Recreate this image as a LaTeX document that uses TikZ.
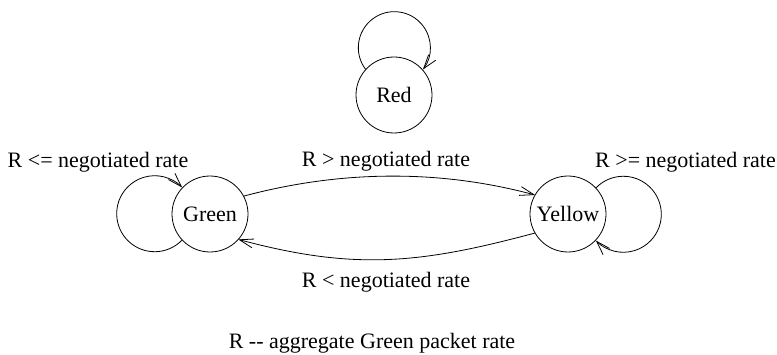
\documentclass[tikz,border=0pt]{standalone}
\usepackage{fontspec}
\setmainfont[Ligatures=TeXOff]{Liberation Serif}
\usetikzlibrary{arrows.meta}
\begin{document}
\begin{tikzpicture}[x=1pt,y=1pt,
  line width=0.8pt,
  every node/.style={font=\rmfamily\fontsize{22}{26}\selectfont},
  state/.style={draw, circle, minimum size=76pt, inner sep=0pt, outer sep=0pt},
  arr/.style={-{Straight Barb[length=14pt,width=9pt]}},
  lbl/.style={anchor=base, inner sep=0pt}]
\useasboundingbox (0,0) rectangle (777,354);

% states
\node[state] (red)    at (394,259) {Red};
\node[state] (green)  at (210,140) {Green};
\node[state] (yellow) at (568,140) {Yellow};

% self loops
\draw[arr] (red.138.7) arc[start angle=217.5, end angle=-37.5, radius=36];
\draw[arr] (green.223.6) arc[start angle=-43.6, end angle=-316.4, radius=38];
\draw[arr] (yellow.43.6) arc[start angle=136.4, end angle=-136.4, radius=38];

% transitions between Green and Yellow
\draw[arr] (green.28) .. controls +(15:100) and +(165:100) .. (yellow.150);
\draw[arr] (yellow.-150) .. controls +(-165:120) and +(-15:120) .. (green.-42);

% labels
\node[lbl] (lgg) at (98,186)    {R <= negotiated rate};
\node[lbl] (lgy) at (386,187)   {R > negotiated rate};
\node[lbl] (lyy) at (685.5,186) {R >= negotiated rate};
\node[lbl] (lyg) at (386,67)    {R < negotiated rate};
\node[lbl] (note) at (372,6)    {R -- aggregate Green packet rate};
\end{tikzpicture}
\end{document}
